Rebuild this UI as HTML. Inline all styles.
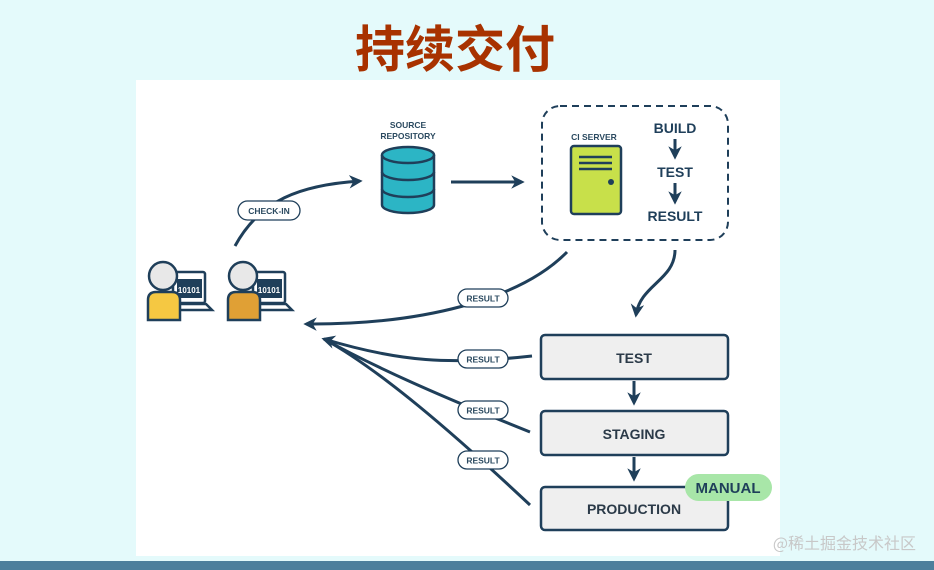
<!DOCTYPE html>
<html><head><meta charset="utf-8"><style>
html,body{margin:0;padding:0;width:934px;height:570px;overflow:hidden;background:#e4fafb;}
</style></head><body>
<svg width="934" height="570" viewBox="0 0 934 570" xmlns="http://www.w3.org/2000/svg" style="position:absolute;left:0;top:0">
<defs>
<marker id="ar" viewBox="0 0 10 10" refX="8" refY="5" markerWidth="4.5" markerHeight="4.5" orient="auto-start-reverse"><path d="M0,0 L10,5 L0,10 L3,5 z" fill="#1f3f5a"/></marker>
</defs>
<rect x="0" y="0" width="934" height="570" fill="#e4fafb"/>
<rect x="0" y="561" width="934" height="9" fill="#4d7f9c"/>
<text x="455" y="67" text-anchor="middle" font-family="'Noto Sans CJK SC',sans-serif" font-weight="bold" font-size="50" fill="#a83200">持续交付</text>
<rect x="136" y="80" width="644" height="476" fill="#ffffff"/>
<g font-family="'Liberation Sans',sans-serif" font-weight="bold" fill="#1f3f5a">
<g stroke="#1f3f5a" stroke-width="2.5">
 <rect x="173" y="272" width="32" height="31" rx="2" fill="#fff"/>
 <rect x="177" y="279" width="25" height="19" fill="#1f3f5a" stroke="none"/>
 <path d="M170 304 L206 304 L212 310 L170 310 z" fill="#fff"/>
 <path d="M148 320 L148 300 Q148 292 156 292 L172 292 Q180 292 180 300 L180 320 z" fill="#f5c842"/>
 <circle cx="163" cy="276" r="14" fill="#e8e8e8"/>
 <rect x="253" y="272" width="32" height="31" rx="2" fill="#fff"/>
 <rect x="257" y="279" width="25" height="19" fill="#1f3f5a" stroke="none"/>
 <path d="M250 304 L286 304 L292 310 L250 310 z" fill="#fff"/>
 <path d="M228 320 L228 300 Q228 292 236 292 L252 292 Q260 292 260 300 L260 320 z" fill="#e0a035"/>
 <circle cx="243" cy="276" r="14" fill="#e8e8e8"/>
</g>
<text x="189" y="293" font-size="8" fill="#fff" text-anchor="middle">10101</text>
<text x="269" y="293" font-size="8" fill="#fff" text-anchor="middle">10101</text>
<g stroke="#1f3f5a" stroke-width="3" fill="none">
 <path d="M235 246 C260 200 300 185 360 181" marker-end="url(#ar)"/>
 <path d="M451 182 L522 182" marker-end="url(#ar)"/>
 <path d="M567 252 C520 300 420 325 306 324" marker-end="url(#ar)"/>
 <path d="M675 250 C675 280 640 285 636 315" marker-end="url(#ar)"/>
 <path d="M532 356 C450 365 400 362 324 339" marker-end="url(#ar)"/>
 <path d="M530 432 C450 400 380 370 324 339"/>
 <path d="M530 505 C450 430 380 370 324 339"/>
 <path d="M675 139 L675 157" marker-end="url(#ar)"/>
 <path d="M675 183 L675 202" marker-end="url(#ar)"/>
 <path d="M634 381 L634 403" marker-end="url(#ar)"/>
 <path d="M634 457 L634 479" marker-end="url(#ar)"/>
</g>
<g stroke="#1f3f5a" stroke-width="1.3" fill="#fff">
 <rect x="238" y="201" width="62" height="19" rx="9.5"/>
 <rect x="458" y="289" width="50" height="18" rx="9"/>
 <rect x="458" y="350" width="50" height="18" rx="9"/>
 <rect x="458" y="401" width="50" height="18" rx="9"/>
 <rect x="458" y="451" width="50" height="18" rx="9"/>
</g>
<g font-size="8.5" text-anchor="middle" fill="#2b4a60">
 <text x="269" y="214">CHECK-IN</text>
 <text x="483" y="301.5">RESULT</text>
 <text x="483" y="362.5">RESULT</text>
 <text x="483" y="413.5">RESULT</text>
 <text x="483" y="463.5">RESULT</text>
 <text x="408" y="128">SOURCE</text>
 <text x="408" y="139">REPOSITORY</text>
 <text x="594" y="140">CI SERVER</text>
</g>
<g stroke="#1f3f5a" stroke-width="2.5" fill="#2cb5c5">
 <path d="M382 155 L382 205 A26 8 0 0 0 434 205 L434 155"/>
 <ellipse cx="408" cy="155" rx="26" ry="8"/>
 <path d="M382 172 A26 8 0 0 0 434 172" fill="none"/>
 <path d="M382 189 A26 8 0 0 0 434 189" fill="none"/>
</g>
<rect x="542" y="106" width="186" height="134" rx="18" fill="none" stroke="#1f3f5a" stroke-width="2" stroke-dasharray="7 5"/>
<rect x="571" y="146" width="50" height="68" rx="3" fill="#c8e04a" stroke="#1f3f5a" stroke-width="2.5"/>
<g stroke="#1f3f5a" stroke-width="2.5"><line x1="579" y1="157" x2="612" y2="157"/><line x1="579" y1="163" x2="612" y2="163"/><line x1="579" y1="169" x2="612" y2="169"/></g>
<circle cx="611" cy="182" r="3" fill="#1f3f5a"/>
<g font-size="14" text-anchor="middle">
 <text x="675" y="133">BUILD</text>
 <text x="675" y="177">TEST</text>
 <text x="675" y="221">RESULT</text>
</g>
<g stroke="#1f3f5a" stroke-width="2.5" fill="#efefef">
 <rect x="541" y="335" width="187" height="44" rx="4"/>
 <rect x="541" y="411" width="187" height="44" rx="4"/>
 <rect x="541" y="487" width="187" height="43" rx="4"/>
</g>
<g font-size="14" text-anchor="middle" fill="#2b3a48">
 <text x="634" y="363">TEST</text>
 <text x="634" y="439">STAGING</text>
 <text x="634" y="514">PRODUCTION</text>
</g>
<rect x="685" y="474" width="87" height="27" rx="13.5" fill="#a8e6a8"/>
<text x="728" y="493" font-size="15" text-anchor="middle" fill="#1f3f5a">MANUAL</text>
</g>
<text x="916" y="549" text-anchor="end" font-family="'Noto Sans CJK SC',sans-serif" font-size="16" fill="#c8c8c8">@稀土掘金技术社区</text>
</svg>
</body></html>
